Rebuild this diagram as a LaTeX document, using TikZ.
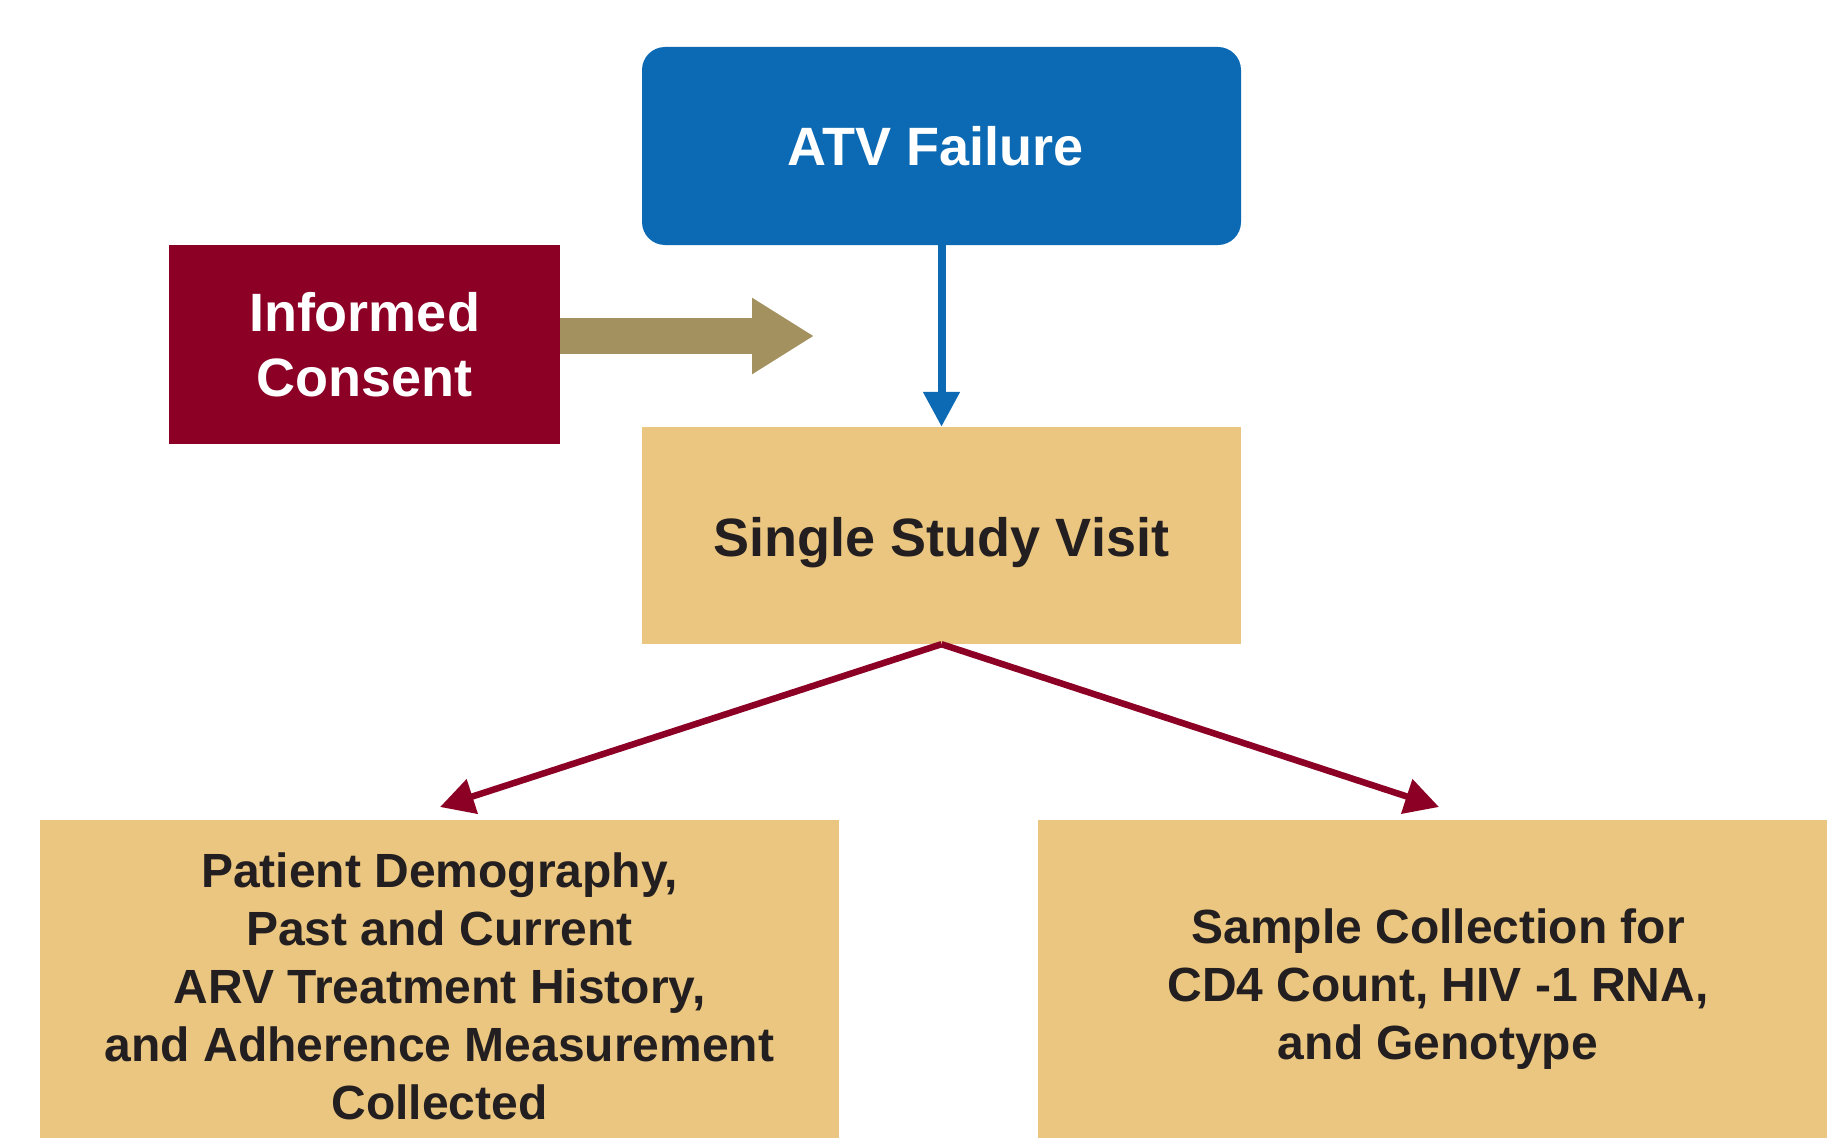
\documentclass[tikz,border=0pt]{standalone}
\usepackage{fontspec}
\setmainfont{Liberation Sans}
\usetikzlibrary{arrows.meta}
\definecolor{atvblue}{HTML}{0B6AB3}
\definecolor{consentred}{HTML}{8C0026}
\definecolor{visittan}{HTML}{EBC680}
\definecolor{arrowtan}{HTML}{A39160}
\definecolor{darktext}{HTML}{231F20}
\tikzset{
  bigfont/.style={font=\bfseries\fontsize{54}{65}\selectfont},
  smallfont/.style={font=\bfseries\fontsize{48}{58}\selectfont},
  tanbox/.style={fill=visittan, text=darktext, inner sep=0pt, align=center},
  redarrow/.style={draw=consentred, line width=6.5pt, -{Triangle[length=34pt,width=35pt]}},
  bluearrow/.style={draw=atvblue, line width=8pt, -{Triangle[length=35pt,width=35pt]}},
  fatarrow/.style={draw=arrowtan, line width=36pt, -{Triangle[length=62pt,width=72pt]}},
}
\begin{document}
\begin{tikzpicture}[x=1pt, y=-1pt]
  \clip (0,0) rectangle (1827,1137);
  \fill[white] (0,0) rectangle (1827,1137);

  % top event
  \node[bigfont, fill=atvblue, text=white, rounded corners=23pt,
        minimum width=599pt, minimum height=198pt, inner sep=0pt]
        (atv) at (941.5,146) {\hspace*{-12pt}ATV Failure};

  % consent box
  \node[bigfont, fill=consentred, text=white, align=center,
        minimum width=391pt, minimum height=199pt, inner sep=0pt]
        (consent) at (364.5,344.5) {Informed\\Consent};

  % visit box
  \node[bigfont, tanbox, minimum width=599pt, minimum height=217pt]
        (visit) at (941.5,535.5) {\raisebox{-7pt}[\height][\depth]{Single Study Visit}};

  % outcome boxes
  \node[smallfont, tanbox, minimum width=799pt, minimum height=332pt]
        (history) at (439.5,986) {Patient Demography,\\Past and Current\\ARV Treatment History,\\and Adherence Measurement\\Collected};
  \node[smallfont, tanbox, minimum width=800pt, minimum height=332pt]
        (samples) at (1438,986) {\raisebox{-4pt}[\height][\depth]{\begin{tabular}{@{}c@{}}Sample Collection for\\CD4 Count, HIV -1 RNA,\\and Genotype\end{tabular}}};

  % connectors
  \coordinate (consenttip) at (814,336);
  \draw[fatarrow] (consent.east |- consenttip) -- (consenttip);
  \draw[bluearrow] (atv.south) -- (visit.north);
  \coordinate (lefttip) at (440,807);
  \coordinate (righttip) at (1439,807);
  \draw[redarrow] (visit.south) -- (lefttip);
  \draw[redarrow] (visit.south) -- (righttip);
\end{tikzpicture}
\end{document}
